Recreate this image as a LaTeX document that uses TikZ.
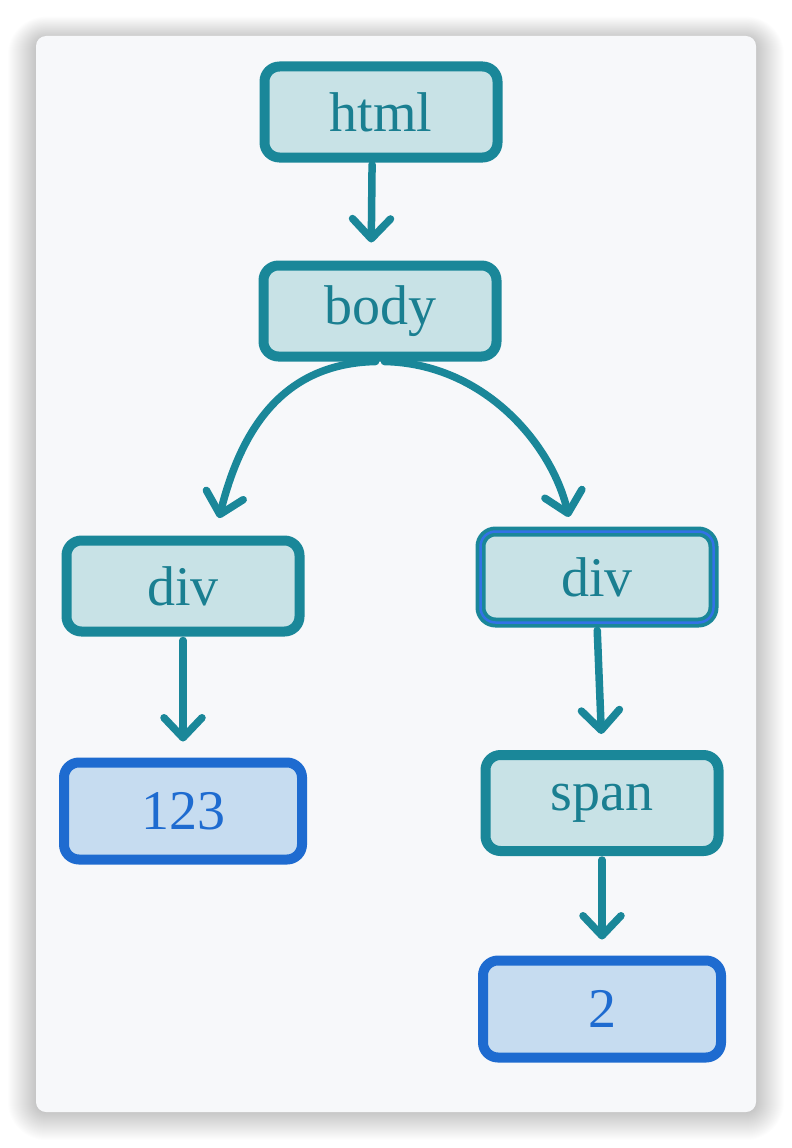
\documentclass[tikz,border=0pt]{standalone}
\usepackage{fontspec}
\setmainfont{Liberation Serif}
\usepackage{tikz}
\usetikzlibrary{arrows.meta, positioning, calc}
\definecolor{tealline}{HTML}{1A8799}
\definecolor{tealfill}{HTML}{C8E2E6}
\definecolor{tealtext}{HTML}{1A7F91}
\definecolor{blueline}{HTML}{1E6BD0}
\definecolor{bluemid}{HTML}{3272E6}
\definecolor{bluefill}{HTML}{C6DCF0}
\definecolor{cardbg}{HTML}{F7F8FA}

\begin{document}
\begin{tikzpicture}[x=1pt,y=-1pt,
    tagbox/.style={draw=tealline, fill=tealfill, text=tealtext, line width=10pt,
      rounded corners=15pt, minimum width=233pt, minimum height=91pt, inner sep=0pt,
      font=\fontsize{56}{64}\selectfont},
    textbox/.style={tagbox, draw=blueline, fill=bluefill, text=blueline,
      minimum width=238pt, minimum height=97pt},
    link/.style={draw=tealline, line width=7.5pt, line cap=round,
      -{Straight Barb[length=20pt,width=38pt,round]}}]

            % Nền và bóng của thẻ
            \useasboundingbox (0,0) rectangle (792,1148);
            \fill[white] (0,0) rectangle (792,1148);
            \foreach \s in {1,2,...,28}
              \fill[black,opacity=0.009,rounded corners={10+\s}] ({36-\s},{36-0.8*\s+3}) rectangle ({756+\s},{1112+\s});
            \fill[cardbg,rounded corners=10] (36,36) rectangle (756,1112);

            % Các nút của cây
            \node[tagbox] (html) at (381,112) {html};
            \node[tagbox] (body) at (380,311) {body};
            \node[tagbox] (divL) at (183,586) {div};
            \node[tagbox, line width=3.75pt, double=bluemid, double distance=2.5pt] (divR) at (597,577) {div};
            \node[textbox] (num) at (183,811) {123};
            \node[tagbox, minimum height=96pt] (span) at (602,803) {span};
            \node[textbox] (two) at (602,1009) {2};

            % Các mũi tên
            \draw[link, shorten <=2pt, shorten >=18pt] (html.260) -- (body.100); % html -> body
            \draw[link, shorten >=18pt] (body.265) .. controls +(-100,2) and +(24,-95) .. (divL.58); % body -> div trái
            \draw[link, shorten >=13pt] (body.275) .. controls +(100,2) and +(-20,-85) .. (divR.118); % body -> div phải
            \draw[link, shorten <=4pt, shorten >=16pt] (divL.south) -- (num.north); % div -> 123
            \draw[link, shorten <=6pt, shorten >=16pt] (divR.south) -- (span.north); % div -> span
            \draw[link, shorten <=4pt, shorten >=16pt] (span.south) -- (two.north); % span -> 2

\end{tikzpicture}
\end{document}
